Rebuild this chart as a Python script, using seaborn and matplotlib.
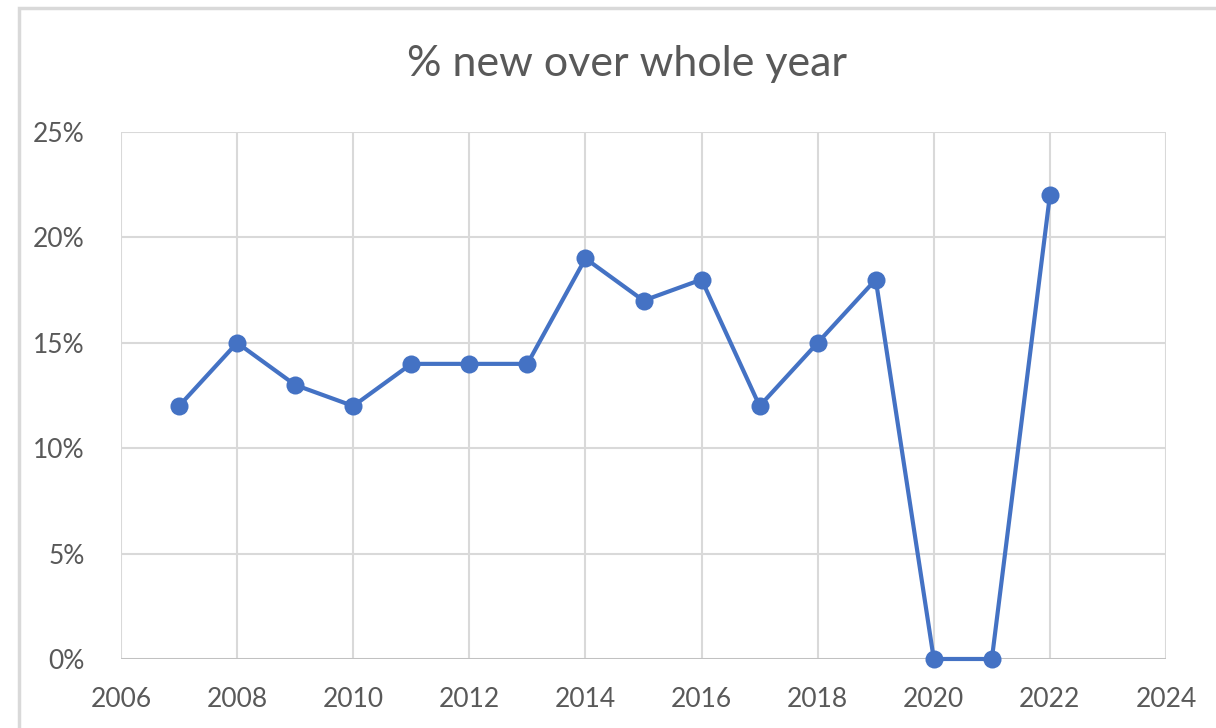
import pandas as pd
import numpy as np
import seaborn as sns
import matplotlib.pyplot as plt
from matplotlib.patches import Rectangle
from matplotlib.ticker import PercentFormatter

years = [2007, 2008, 2009, 2010, 2011, 2012, 2013, 2014, 2015, 2016, 2017, 2018, 2019, 2020, 2021, 2022]
pct_new = [12, 15, 13, 12, 14, 14, 14, 19, 17, 18, 12, 15, 18, 0, 0, 22]
x_ticks = [2006, 2008, 2010, 2012, 2014, 2016, 2018, 2020, 2022, 2024]
y_ticks = [0, 5, 10, 15, 20, 25]

sns.set_style("white")
plt.rcParams['font.family'] = ['Lato', 'DejaVu Sans']

data = pd.DataFrame({'year': years, 'pct': pct_new})

fig = plt.figure(figsize=(12.16, 7.28), dpi=100)
ax = fig.add_axes([0.0995, 0.0948, 0.8594, 0.7239])

# marco del grafico (recortado en la captura)
fig.patches.append(Rectangle((19 / 1216, -0.05), 1.2, 1 - 8 / 728 + 0.05,
                             transform=fig.transFigure, fill=False,
                             edgecolor='#D9D9D9', linewidth=2.5))

sns.lineplot(data=data, x='year', y='pct', ax=ax, color='#4472C4',
             linewidth=3, marker='o', markersize=13, markeredgewidth=0,
             clip_on=False, zorder=5)

ax.set_xlim(2006, 2024)
ax.set_ylim(0, 25)
ax.set_xticks(x_ticks)
ax.set_yticks(y_ticks)
ax.yaxis.set_major_formatter(PercentFormatter(decimals=0))
ax.grid(True, color='#D9D9D9', linewidth=1.5)
ax.set_axisbelow(True)
for s in ax.spines.values():
    s.set_visible(False)
ax.axhline(0, color='#BFBFBF', linewidth=2, zorder=1)

ax.tick_params(length=0, labelsize=19, labelcolor='#595959')
ax.tick_params(axis='x', pad=20)
ax.tick_params(axis='y', pad=26)
ax.set_xlabel('')
ax.set_ylabel('')

fig.text(627 / 1216, 1 - 64 / 728, '% new over whole year', ha='center', va='center',
         fontsize=31, color='#595959')

fig.savefig('out.png', dpi=100)
